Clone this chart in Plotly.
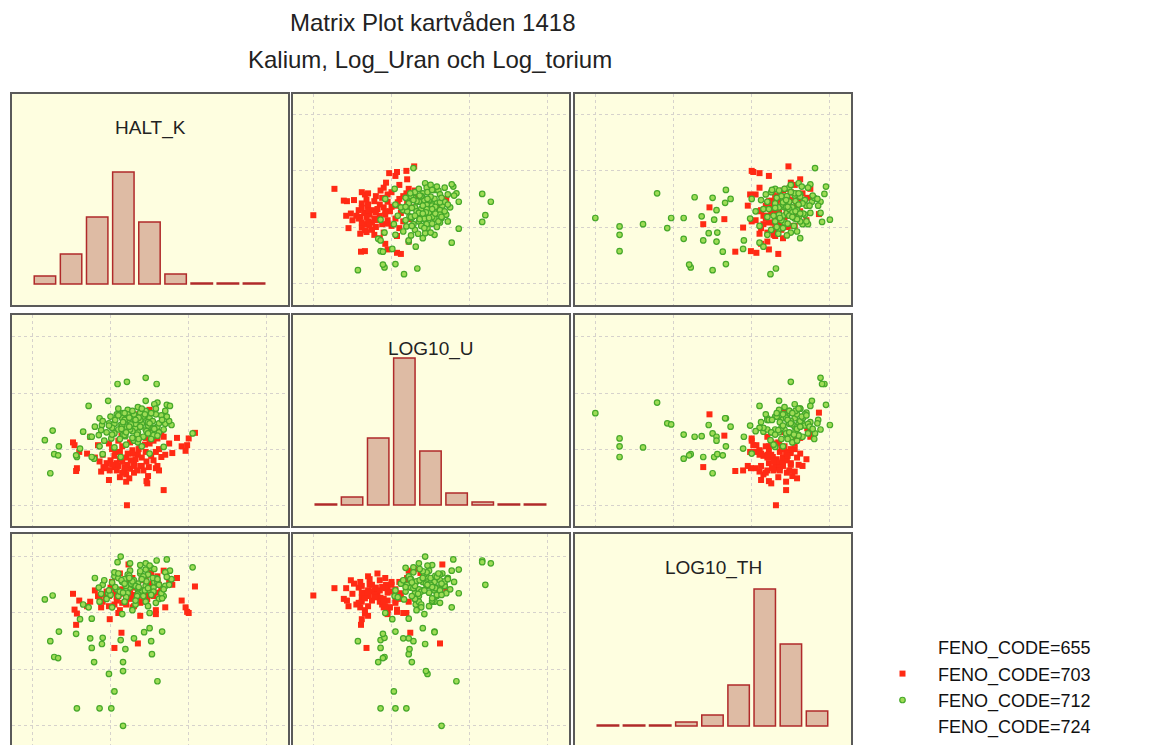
import plotly.graph_objects as go

# ─── Data (grid units: the dotted grid lines sit at 0, 1, 2, 3) ─────────────
VARIABLES = ["HALT_K", "LOG10_U", "LOG10_TH"]

RED_K = [1.21, 2.08, 2.00, 1.91, 1.79, 1.68, 1.47, 1.46, 0.98, 0.56,
         0.54, 0.52, 0.60, 0.74, 0.84, 0.91, 1.23, 1.53, 1.35, 1.05,
         1.14, 0.99, 1.50, 1.65, 1.60, 1.55, 1.52, 1.20, 1.58, 1.49,
         0.57, 1.96, 1.98,
         1.10, 1.15, 1.20, 1.25, 1.30, 1.35, 1.05, 1.00, 1.12, 1.18,
         1.28, 1.40, 1.22, 1.08, 0.95, 0.90, 1.32, 1.45, 1.38, 1.50,
         1.55, 1.62, 1.15, 1.25, 1.45, 1.35, 1.02, 0.88, 0.80, 1.20,
         1.30, 1.42, 1.60, 1.70, 1.75, 1.65, 1.85, 1.10, 0.98, 1.48,
         1.58, 1.12, 1.38, 1.68, 1.28,
         1.18, 1.26, 1.34, 1.08, 1.40, 1.22, 1.15, 1.30, 1.46, 0.94,
         1.02, 1.36, 1.52, 1.12, 0.86, 1.62, 1.24, 0.70, 1.44, 1.06]
RED_U = [0.00, 1.29, 1.19, 1.05, 0.93, 0.27, 0.39, 0.43, 0.45, 0.61,
         1.07, 1.12, 0.95, 1.22, 1.07, 0.68, 1.65, 1.29, 1.62, 0.68,
         1.24, 0.62, 1.70, 0.86, 1.19, 1.15, 1.37, 0.42, 0.66, 0.68,
         0.66, 0.97, 1.07,
         0.70, 0.78, 0.85, 0.65, 0.75, 0.90, 0.88, 0.80, 0.95, 0.60,
         0.98, 0.70, 0.72, 0.62, 0.75, 0.90, 0.82, 0.95, 1.05, 1.10,
         0.80, 1.00, 1.05, 1.12, 1.20, 1.25, 1.00, 0.60, 0.85, 0.55,
         0.58, 0.62, 0.70, 0.90, 1.10, 1.30, 1.20, 1.15, 1.10, 0.52,
         0.95, 0.82, 0.70, 1.22, 0.92,
         0.68, 0.80, 0.62, 0.75, 0.85, 0.92, 0.58, 0.70, 0.78, 0.66,
         0.72, 1.00, 0.88, 0.50, 0.78, 0.62, 0.48, 0.92, 1.08, 0.95]
RED_TH = [2.31, 2.47, 2.00, 2.22, 2.50, 2.44, 2.25, 2.22, 2.12, 1.79,
          2.06, 2.34, 2.22, 2.20, 2.30, 2.33, 2.86, 2.78, 1.46, 1.38,
          1.65, 1.89, 2.41, 2.27, 2.56, 2.56, 2.71, 2.44, 2.05, 2.35,
          1.99, 2.10, 2.02,
          2.30, 2.40, 2.20, 2.35, 2.50, 2.25, 2.15, 2.45, 2.05, 2.55,
          2.10, 2.40, 2.60, 2.28, 2.38, 2.20, 2.32, 2.45, 2.18, 2.35,
          2.30, 2.50, 2.42, 2.25, 2.60, 2.48, 2.55, 2.10, 2.40, 2.15,
          2.45, 2.20, 2.65, 2.10, 2.55, 2.40, 2.62, 2.00, 2.30, 2.52,
          1.98, 2.70, 1.95, 2.75, 2.62,
          2.36, 2.28, 2.48, 2.22, 2.58, 2.44, 2.18, 2.12, 2.32, 2.26,
          2.50, 2.38, 2.46, 2.34, 2.28, 2.36, 2.58, 2.12, 2.28, 2.36]

GREEN_K = [1.16, 1.01, 0.86, 0.57, 1.05, 1.60, 0.98, 1.16, 1.16, 0.79,
           0.28, 0.33, 1.53, 0.76, 1.19, 0.23, 0.89, 1.52, 1.13, 0.90,
           0.74, 0.34, 0.56, 1.66, 1.43, 1.50, 1.30, 0.61, 0.16, 0.26,
           0.72, 0.97, 0.86, 1.45, 1.21, 1.59, 1.09, 1.72, 1.13, 2.05,
           1.78, 1.68, 1.50, 0.76, 0.65, 1.45, 1.56, 1.76, 1.70,
           1.20, 1.30, 1.10, 1.40, 1.25, 1.35, 1.15, 1.45, 1.05, 1.50,
           1.28, 1.38, 0.95, 1.60, 1.22, 1.32, 1.18, 1.42, 1.55, 1.08,
           1.25, 1.48, 0.90, 1.65, 1.12, 1.35, 1.58, 1.02, 1.28, 1.45,
           1.70, 0.85, 1.38, 1.20, 1.52, 1.10, 1.62, 1.30, 1.00, 1.48,
           1.75, 1.15, 1.35, 1.42, 0.92, 1.25, 1.58, 1.05, 1.68, 1.32,
           1.18, 1.55, 0.80, 1.40, 1.22,
           1.26, 1.36, 1.16, 1.46, 1.54, 1.06, 1.34, 1.24, 1.44, 1.62,
           1.14, 1.38, 1.52, 0.98, 1.28, 1.48, 1.72, 1.20, 1.32, 1.10,
           1.56, 1.40, 0.88, 1.66, 1.24, 1.50, 1.36, 1.18, 1.60, 1.02]
GREEN_U = [1.64, 1.19, 1.05, 0.86, 1.03, 1.83, 1.46, 1.44, 1.26, 0.83,
           0.91, 0.89, 1.22, 0.86, 1.23, 0.57, 1.43, 1.28, 0.86, 0.91,
           1.22, 1.05, 0.89, 1.55, 1.55, 1.40, 1.15, 1.01, 1.16, 1.33,
           1.77, 1.86, 1.55, 2.27, 2.20, 2.16, 2.16, 1.79, 1.43, 1.28,
           1.43, 1.04, 0.92, 1.22, 1.31, 1.86, 1.80, 1.77, 1.68,
           1.40, 1.50, 1.35, 1.45, 1.60, 1.30, 1.55, 1.35, 1.45, 1.55,
           1.20, 1.65, 1.30, 1.40, 1.70, 1.38, 1.25, 1.58, 1.25, 1.62,
           1.48, 1.42, 1.50, 1.60, 1.18, 1.12, 1.72, 1.38, 1.32, 1.68,
           1.45, 1.25, 1.52, 1.08, 1.18, 1.72, 1.30, 1.62, 1.58, 1.48,
           1.50, 1.42, 1.75, 1.22, 1.15, 1.35, 1.62, 1.28, 1.35, 1.45,
           1.52, 1.38, 1.40, 1.05, 1.62,
           1.44, 1.56, 1.48, 1.32, 1.50, 1.52, 1.26, 1.56, 1.62, 1.46,
           1.36, 1.40, 1.64, 1.42, 1.68, 1.28, 1.58, 1.30, 1.52, 1.60,
           1.36, 1.72, 1.34, 1.52, 1.40, 1.46, 1.18, 1.64, 1.24, 1.26]
GREEN_TH = [0.00, 0.31, 0.31, 0.31, 0.61, 0.79, 0.92, 0.97, 1.13, 1.13,
            1.22, 1.20, 1.27, 1.38, 1.36, 1.50, 1.45, 1.50, 1.52, 1.56,
            1.55, 1.67, 1.63, 1.67, 1.66, 1.73, 1.55, 1.89, 2.24, 2.31,
            2.10, 2.35, 2.20, 2.88, 2.50, 2.93, 2.90, 2.95, 3.00, 2.81,
            2.60, 2.30, 2.00, 1.90, 2.15, 2.77, 2.55, 2.75, 2.48,
            2.40, 2.50, 2.30, 2.60, 2.45, 2.35, 2.55, 2.20, 2.65, 2.40,
            2.50, 2.70, 2.25, 2.55, 2.35, 2.15, 2.60, 2.30, 2.45, 2.42,
            2.75, 2.68, 2.50, 2.35, 2.38, 2.52, 2.62, 2.10, 2.05, 2.48,
            2.72, 2.45, 2.85, 2.28, 2.80, 2.62, 2.25, 2.58, 2.32, 2.12,
            2.50, 1.98, 2.42, 2.65, 2.58, 2.88, 2.18, 2.72, 2.42, 2.48,
            2.20, 2.38, 2.62, 2.40, 2.68,
            2.52, 2.44, 2.36, 2.56, 2.62, 2.46, 2.30, 2.66, 2.40, 2.50,
            2.58, 2.74, 2.32, 2.40, 2.56, 2.44, 2.64, 2.48, 2.22, 2.70,
            2.78, 2.60, 2.34, 2.26, 2.62, 2.84, 2.46, 2.52, 2.60, 2.54]

# histogram counts on the diagonal (9 bins each)
HIST_BINS = [1, 2, 3, 4, 5, 6, 7, 8, 9]
HIST_HALT_K = [8, 30, 67, 112, 62, 10, 1, 1, 1]
HIST_LOG10_U = [1, 8, 67, 147, 54, 12, 3, 1, 1]
HIST_LOG10_TH = [1, 1, 1, 4, 11, 41, 137, 82, 15]

LEGEND_NAMES = ["FENO_CODE=655", "FENO_CODE=703", "FENO_CODE=712", "FENO_CODE=724"]

TITLE = "Matrix Plot kartvåden 1418"
SUBTITLE = "Kalium, Log_Uran och Log_torium"

# ─── Style ──────────────────────────────────────────────────────────────────
COLORS = {
    "panel": "#FEFEE0",
    "border": "#5a5a5a",
    "grid": "#d6d2cc",
    "red": "#FF2A14",
    "green_fill": "#9EDC55",
    "green_edge": "#46A82A",
    "bar_fill": "#DEBBA4",
    "bar_edge": "#B02A2A",
    "text": "#222222",
}
FONT = "Liberation Sans, Arial, sans-serif"

W, H = 1149, 745
COLS = [(12, 288), (293, 569), (575, 851)]
ROWS = [(94, 305), (315, 526), (534, 745)]
ROW_YRANGE = [[-0.39, 3.37], [-0.37, 3.39], [-0.34, 3.40]]
X_RANGE = [-0.26, 3.27]
HIST_XRANGE = [-0.26, 10.3]
HIST_BASE = [21, 21, 19]

red = {"HALT_K": RED_K, "LOG10_U": RED_U, "LOG10_TH": RED_TH}
green = {"HALT_K": GREEN_K, "LOG10_U": GREEN_U, "LOG10_TH": GREEN_TH}
hists = {"HALT_K": HIST_HALT_K, "LOG10_U": HIST_LOG10_U, "LOG10_TH": HIST_LOG10_TH}


def label(text, px, py, size):
    """Centered paper-space text at pixel position (px, py)."""
    return dict(text=text, xref="paper", yref="paper", x=px / W, y=1 - py / H,
                xanchor="center", yanchor="middle", showarrow=False,
                font=dict(family=FONT, size=size, color=COLORS["text"]))


fig = go.Figure()
layout = {}
annotations = []
first_scatter = True

for r in range(3):
    for c in range(3):
        n = r * 3 + c + 1
        sfx = "" if n == 1 else str(n)
        xa, ya = "x" + sfx, "y" + sfx
        x0, x1 = COLS[c]
        y0, y1 = ROWS[r]
        xdom = [x0 / W, x1 / W]
        ydom = [1 - y1 / H, 1 - y0 / H]
        common = dict(showline=True, mirror=True, linecolor=COLORS["border"], linewidth=2,
                      showticklabels=False, ticks="", zeroline=False, fixedrange=True)
        if r == c:
            var = VARIABLES[r]
            fig.add_trace(go.Bar(
                x=HIST_BINS, y=hists[var], xaxis=xa, yaxis=ya, width=0.82,
                marker=dict(color=COLORS["bar_fill"],
                            line=dict(color=COLORS["bar_edge"], width=1.5)),
                showlegend=False, hoverinfo="skip",
            ))
            base = HIST_BASE[r]
            layout["xaxis" + sfx] = dict(domain=xdom, anchor=ya, range=HIST_XRANGE,
                                         showgrid=False, **common)
            layout["yaxis" + sfx] = dict(domain=ydom, anchor=xa,
                                         range=[-base, (y1 - y0) - base],
                                         showgrid=False, **common)
            annotations.append(label(var, (x0 + x1) / 2, y0 + 34, 19))
        else:
            xv, yv = VARIABLES[c], VARIABLES[r]
            fig.add_trace(go.Scatter(
                x=red[xv], y=red[yv], xaxis=xa, yaxis=ya, mode="markers",
                name=LEGEND_NAMES[1], legendgroup="703", legendrank=2,
                showlegend=first_scatter,
                marker=dict(symbol="square", size=6, color=COLORS["red"]),
            ))
            fig.add_trace(go.Scatter(
                x=green[xv], y=green[yv], xaxis=xa, yaxis=ya, mode="markers",
                name=LEGEND_NAMES[2], legendgroup="712", legendrank=3,
                showlegend=first_scatter,
                marker=dict(symbol="circle", size=5.5, color=COLORS["green_fill"],
                            line=dict(color=COLORS["green_edge"], width=1.2)),
            ))
            first_scatter = False
            grid = dict(showgrid=True, gridcolor=COLORS["grid"], gridwidth=1,
                        griddash="dot", tickvals=[0, 1, 2, 3])
            layout["xaxis" + sfx] = dict(domain=xdom, anchor=ya, range=X_RANGE, **grid, **common)
            layout["yaxis" + sfx] = dict(domain=ydom, anchor=xa, range=ROW_YRANGE[r], **grid, **common)

# legend-only entries for the empty groups
for name, rank in [(LEGEND_NAMES[0], 1), (LEGEND_NAMES[3], 4)]:
    fig.add_trace(go.Scatter(
        x=[None], y=[None], mode="markers", name=name, legendrank=rank,
        marker=dict(color="rgba(0,0,0,0)", size=6), xaxis="x2", yaxis="y2",
    ))

annotations.append(label(TITLE, 432, 22, 24))
annotations.append(label(SUBTITLE, 430, 60, 24))

fig.update_layout(
    **layout,
    annotations=annotations,
    width=W, height=H,
    margin=dict(l=0, r=0, t=0, b=0, autoexpand=False),
    paper_bgcolor="white",
    plot_bgcolor=COLORS["panel"],
    hovermode=False,
    legend=dict(x=867 / W, y=1 - 629 / H, xanchor="left", yanchor="top",
                font=dict(family=FONT, size=18, color="#111111"),
                bgcolor="rgba(0,0,0,0)", tracegroupgap=0, itemwidth=61),
)

fig.write_html("out.html", config={"displayModeBar": False},
               post_script="document.body.style.margin='0';document.body.style.overflow='hidden';")
